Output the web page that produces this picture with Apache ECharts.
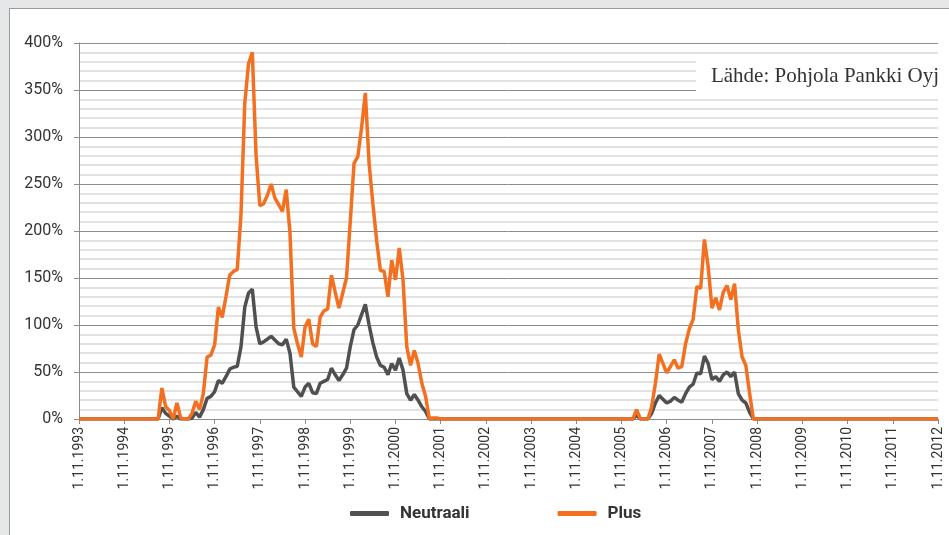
<!DOCTYPE html>
<html>
<head>
<meta charset="utf-8">
<script src="https://cdn.jsdelivr.net/npm/echarts@6/dist/echarts.min.js"></script>
<style>
	html, body { margin: 0; padding: 0; background: #e6e7e8; overflow: hidden; }
	#panel { position: absolute; left: 9px; top: 8px; width: 960px; height: 560px; background: #fff; border: 1px solid #9a9a9a; }
	#chart { position: absolute; left: 0; top: 0; width: 949px; height: 535px; }
</style>
</head>
<body>
<div id="panel"></div>
<div id="chart"></div>
<script>
// x = months since 1.11.1993
var xTickLabels = ['1.11.1993', '1.11.1994', '1.11.1995', '1.11.1996', '1.11.1997', '1.11.1998', '1.11.1999',
	'1.11.2000', '1.11.2001', '1.11.2002', '1.11.2003', '1.11.2004', '1.11.2005', '1.11.2006', '1.11.2007',
	'1.11.2008', '1.11.2009', '1.11.2010', '1.11.2011', '1.11.2012'];

var months = [0,
	21, 22, 23, 24, 25, 26, 27, 28, 29, 30, 31, 32, 33, 34, 35, 36, 37, 38, 39, 40,
	41, 42, 43, 44, 45, 46, 47, 48, 49, 50, 51, 52, 53, 54, 55, 56, 57, 58, 59, 60,
	61, 62, 63, 64, 65, 66, 67, 68, 69, 70, 71, 72, 73, 74, 75, 76, 77, 78, 79, 80,
	81, 82, 83, 84, 85, 86, 87, 88, 89, 90, 91, 92, 93, 94, 95, 96,
	147, 148, 149, 150, 151, 152, 153, 154, 155, 156, 157, 158, 159, 160, 161, 162, 163,
	164, 165, 166, 167, 168, 169, 170, 171, 172, 173, 174, 175, 176, 177, 178, 179,
	228];

var neutraali = [0,
	0, 12, 6, 3, 0, 3, 0, 0, 0, 1, 7, 2, 10, 22, 24, 29, 41, 38, 45, 53,
	55, 56, 77, 119, 134, 138, 98, 80, 82, 85, 88, 84, 80, 79, 85, 70, 34, 29, 24, 34,
	38, 28, 27, 38, 40, 42, 54, 47, 41, 47, 54, 77, 95, 100, 111, 122, 100, 81, 66, 57,
	55, 47, 59, 52, 65, 52, 27, 20, 26, 20, 13, 8, 0, 0, 0, 0,
	0, 4, 0, 0, 0, 6, 17, 25, 21, 17, 19, 23, 20, 18, 27, 34, 37,
	49, 48, 67, 59, 42, 45, 40, 47, 50, 45, 50, 27, 20, 17, 7, 0,
	0];

var plus = [0,
	0, 33, 13, 9, 0, 17, 1, 0, 0, 6, 19, 10, 27, 66, 68, 79, 119, 108, 130, 153,
	157, 159, 218, 336, 378, 390, 280, 227, 229, 238, 250, 235, 228, 221, 244, 198, 97, 80, 66, 98,
	106, 80, 77, 108, 115, 117, 153, 135, 118, 134, 150, 210, 272, 279, 310, 347, 272, 229, 190, 158,
	157, 130, 169, 148, 182, 148, 77, 57, 73, 59, 38, 24, 0, 1, 1, 0,
	0, 10, 0, 0, 0, 13, 38, 69, 59, 49, 56, 63, 54, 56, 80, 96, 106,
	141, 139, 191, 162, 118, 129, 116, 135, 142, 127, 144, 95, 66, 57, 27, 0,
	0];

var sourceText = 'Lähde: Pohjola Pankki Oyj';

function pairs(vals) {
	return months.map(function (m, i) { return [m, vals[i]]; });
}

var chart = echarts.init(document.getElementById('chart'));
chart.setOption({
	animation: false,
	textStyle: { fontFamily: 'Roboto' },
	title: {
		text: sourceText,
		right: 0,
		top: 57,
		backgroundColor: '#fff',
		padding: [9, 10, 9, 15],
		textStyle: {
			fontFamily: 'Liberation Serif',
			fontWeight: 'normal',
			fontSize: 21,
			color: '#333'
		}
	},
	legend: {
		left: 345,
		top: 500,
		itemWidth: 39,
		itemHeight: 5,
		itemGap: 88,
		icon: 'roundRect',
		textStyle: { fontSize: 17, fontWeight: 'bold', color: '#333', fontFamily: 'Roboto', padding: [0, 0, 0, 6] },
		data: ['Neutraali', 'Plus']
	},
	grid: {
		left: 79,
		right: 11,
		top: 43,
		bottom: 116
	},
	xAxis: {
		type: 'value',
		min: 0,
		max: 228,
		interval: 12,
		axisLine: { lineStyle: { color: '#8c8c8c', width: 1 } },
		axisTick: { show: true, length: 5, lineStyle: { color: '#8c8c8c' } },
		axisLabel: {
			rotate: 90,
			fontSize: 14,
			color: '#333',
			margin: 8,
			formatter: function (v) { return xTickLabels[Math.round(v / 12)]; }
		},
		splitLine: { show: false }
	},
	yAxis: {
		type: 'value',
		min: 0,
		max: 400,
		interval: 50,
		axisLine: { show: true, lineStyle: { color: '#8c8c8c', width: 1 } },
		axisTick: { show: true, length: 5, lineStyle: { color: '#8c8c8c' } },
		axisLabel: {
			fontSize: 16,
			color: '#333',
			margin: 16,
			formatter: '{value}%'
		},
		splitLine: { lineStyle: { color: '#8c8c8c', width: 1 } },
		minorTick: { show: false, splitNumber: 5 },
		minorSplitLine: { show: true, lineStyle: { color: '#e2e2e2', width: 2 } }
	},
	series: [{
		name: 'Neutraali',
		type: 'line',
		showSymbol: false,
		color: '#505050',
		lineStyle: { width: 3.5, color: '#505050' },
		data: pairs(neutraali)
	}, {
		name: 'Plus',
		type: 'line',
		showSymbol: false,
		color: '#f37021',
		lineStyle: { width: 3.5, color: '#f37021' },
		data: pairs(plus)
	}]
});
</script>
</body>
</html>
